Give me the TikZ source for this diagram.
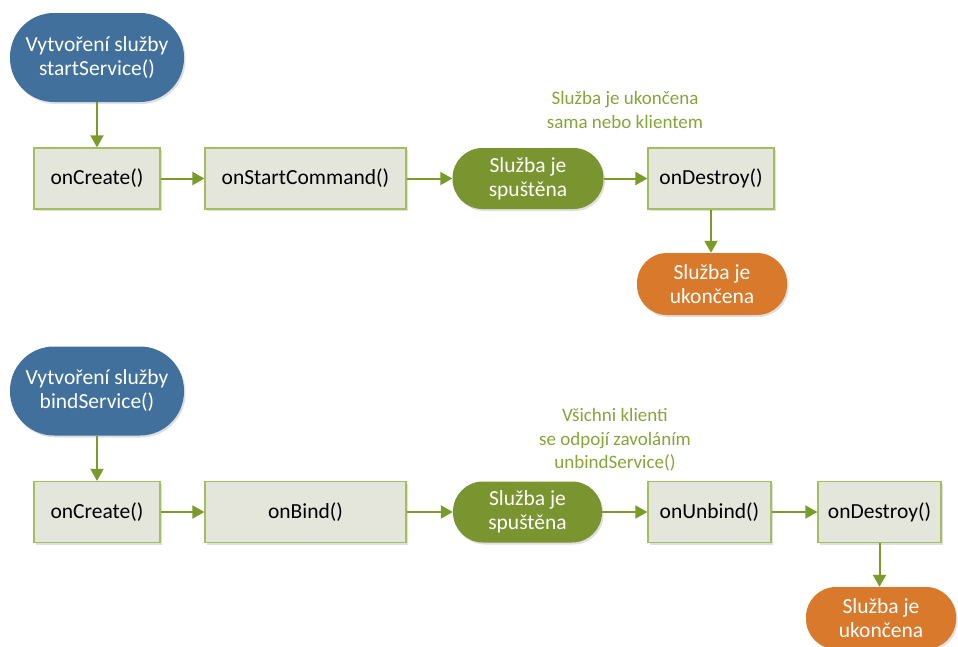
\documentclass[tikz,border=0pt]{standalone}
\usepackage{fontspec}
\setmainfont{Carlito}
\usetikzlibrary{arrows.meta,shadows}
\definecolor{cblue}{HTML}{41709C}
\definecolor{cgreen}{HTML}{7A9530}
\definecolor{corange}{HTML}{D8792C}
\definecolor{cbox}{HTML}{E4E6DC}
\definecolor{cboxline}{HTML}{A3BE5E}
\definecolor{carrow}{HTML}{7A9A2A}
\definecolor{clabel}{HTML}{86A43A}
\tikzset{
  shd/.style={drop shadow={opacity=0.25,shadow xshift=1.5pt,shadow yshift=-2pt}},
  term/.style={shd,rounded corners=30pt,draw=none,text=white,align=center,
    font=\fontsize{21.5}{24}\selectfont,inner sep=0pt},
  bluet/.style={term,fill=cblue,minimum width=174pt,minimum height=89pt,rounded corners=44pt},
  greent/.style={term,fill=cgreen,minimum width=151pt,minimum height=61pt},
  oranget/.style={term,fill=corange,minimum width=150pt,minimum height=62pt},
  procbox/.style={shd,draw=cboxline,line width=1.2pt,fill=cbox,align=center,
    font=\fontsize{21.5}{24}\selectfont,inner sep=0pt,minimum height=61pt},
  lbl/.style={text=clabel,align=center,font=\fontsize{19}{23.5}\selectfont,inner sep=0pt},
  arr/.style={draw=carrow,line width=2pt,-{Triangle[length=12pt,width=13pt]}}
}
\begin{document}
\begin{tikzpicture}[x=1pt,y=-1pt]
\useasboundingbox (0,0) rectangle (958,646);
% top row
\node[bluet] (b1) at (97,57.5) {Vytvoření služby\\startService()};
\node[procbox,minimum width=126pt] (c1) at (97,178.5) {onCreate()};
\node[procbox,minimum width=201pt] (s1) at (305.5,178.5) {onStartCommand()};
\node[greent] (g1) at (528,178.5) {Služba je\\spuštěna};
\node[procbox,minimum width=126pt] (d1) at (711,178.5) {onDestroy()};
\node[oranget] (o1) at (712,284) {Služba je\\ukončena};
\node[lbl] (l1) at (625,110) {Služba je ukončena\\sama nebo klientem};
\draw[arr] (b1) -- (c1);
\draw[arr] (c1) -- (s1);
\draw[arr] (s1) -- (g1);
\draw[arr] (g1) -- (d1);
\draw[arr] (d1.south) -- (d1.south |- o1.north);
% bottom row
\node[bluet] (b2) at (97,391) {Vytvoření služby\\bindService()};
\node[procbox,minimum width=126pt] (c2) at (97,512) {onCreate()};
\node[procbox,minimum width=201pt] (s2) at (305.5,512) {onBind()};
\node[greent,minimum width=149pt] (g2) at (527.5,512) {Služba je\\spuštěna};
\node[procbox,minimum width=123pt] (u2) at (709.5,512) {onUnbind()};
\node[procbox,minimum width=123pt] (d2) at (879.5,512) {onDestroy()};
\node[oranget] (o2) at (881,618) {Služba je\\ukončena};
\node[lbl] (l2) at (615,440) {Všichni klienti\\se odpojí zavoláním\\unbindService()};
\draw[arr] (b2) -- (c2);
\draw[arr] (c2) -- (s2);
\draw[arr] (s2) -- (g2);
\draw[arr] (g2) -- (u2);
\draw[arr] (u2) -- (d2);
\draw[arr] (d2.south) -- (d2.south |- o2.north);
\end{tikzpicture}
\end{document}
